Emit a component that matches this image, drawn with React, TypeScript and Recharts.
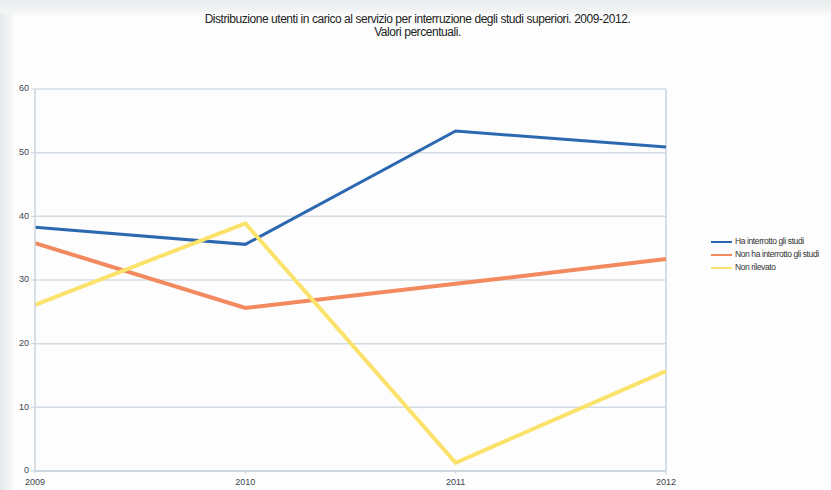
import { LineChart, Line, XAxis, YAxis, CartesianGrid, ReferenceLine } from 'recharts'

// ─── Data ────────────────────────────────────────────────────────

const YEARS = [2009, 2010, 2011, 2012]
const HA_INTERROTTO = [38.3, 35.6, 53.4, 50.9]
const NON_HA_INTERROTTO = [35.8, 25.6, 29.4, 33.3]
const NON_RILEVATO = [26.1, 38.9, 1.3, 15.7]
const Y_TICKS = [0, 10, 20, 30, 40, 50, 60]

const SERIES = [
  { key: 'ha', name: 'Ha interrotto gli studi', color: '#2c68b0', width: 3 },
  { key: 'non', name: 'Non ha interrotto gli studi', color: '#f2895f', width: 4 },
  { key: 'nr', name: 'Non rilevato', color: '#fbe26a', width: 4 },
]

const rows = YEARS.map((year, i) => ({
  year,
  ha: HA_INTERROTTO[i],
  non: NON_HA_INTERROTTO[i],
  nr: NON_RILEVATO[i],
}))

const FONT = 'Liberation Sans, Arial, sans-serif'
const TICK = { fill: '#3a4450', fontSize: 9, fontFamily: FONT }

function LegendBox() {
  return (
    <div
      style={{
        position: 'absolute',
        left: 711,
        top: 235,
        fontFamily: FONT,
        fontSize: 8.5,
        color: '#333',
        letterSpacing: '-0.4px',
        lineHeight: '13px',
      }}
    >
      {SERIES.map((s) => (
        <div key={s.key} style={{ display: 'flex', alignItems: 'center', whiteSpace: 'nowrap' }}>
          <div style={{ width: 21, height: 2, background: s.color, marginRight: 3 }} />
          <span>{s.name}</span>
        </div>
      ))}
    </div>
  )
}

export default function App() {
  return (
    <div
      style={{
        position: 'absolute',
        left: 0,
        top: 0,
        width: 831,
        height: 490,
        overflow: 'hidden',
        background:
          'linear-gradient(to bottom, #e9eced 0px, #f3f5f5 12px, rgba(255,255,255,0) 16px), linear-gradient(to right, #e6e9ea 0px, #f1f3f4 9px, #fdfdfd 14px)',
      }}
    >
      <div
        style={{
          position: 'absolute',
          left: 0,
          top: 13,
          width: 831,
          textAlign: 'center',
          paddingLeft: 2,
          fontFamily: FONT,
          fontSize: 12,
          letterSpacing: '-0.45px',
          color: '#222',
          lineHeight: '13px',
        }}
      >
        <div>Distribuzione utenti in carico al servizio per interruzione degli studi superiori. 2009-2012.</div>
        <div>Valori percentuali.</div>
      </div>

      <LineChart
        width={831}
        height={490}
        data={rows}
        margin={{ top: 89, right: 165, bottom: 0, left: 5 }}
        style={{ position: 'absolute', left: 0, top: 0 }}
      >
        <CartesianGrid stroke="#d3dce5" strokeWidth={1.5} vertical={false} />
        <ReferenceLine x={2012} stroke="#c8d3de" strokeWidth={1.5} />
        <XAxis
          dataKey="year"
          type="number"
          domain={[2009, 2012]}
          ticks={YEARS}
          height={19}
          tick={{ ...TICK, dy: 3 }}
          tickLine={{ stroke: '#c8d3de' }}
          tickSize={3}
          axisLine={{ stroke: '#c8d3de', strokeWidth: 1.5 }}
          interval={0}
        />
        <YAxis
          type="number"
          domain={[0, 60]}
          ticks={Y_TICKS}
          width={30}
          tick={{ ...TICK, dy: -1 }}
          tickLine={{ stroke: '#c8d3de' }}
          tickSize={4}
          axisLine={{ stroke: '#c8d3de', strokeWidth: 1.5 }}
        />
        {SERIES.map((s) => (
          <Line
            key={s.key}
            dataKey={s.key}
            name={s.name}
            type="linear"
            stroke={s.color}
            strokeWidth={s.width}
            dot={false}
            isAnimationActive={false}
          />
        ))}
      </LineChart>

      <LegendBox />
    </div>
  )
}
